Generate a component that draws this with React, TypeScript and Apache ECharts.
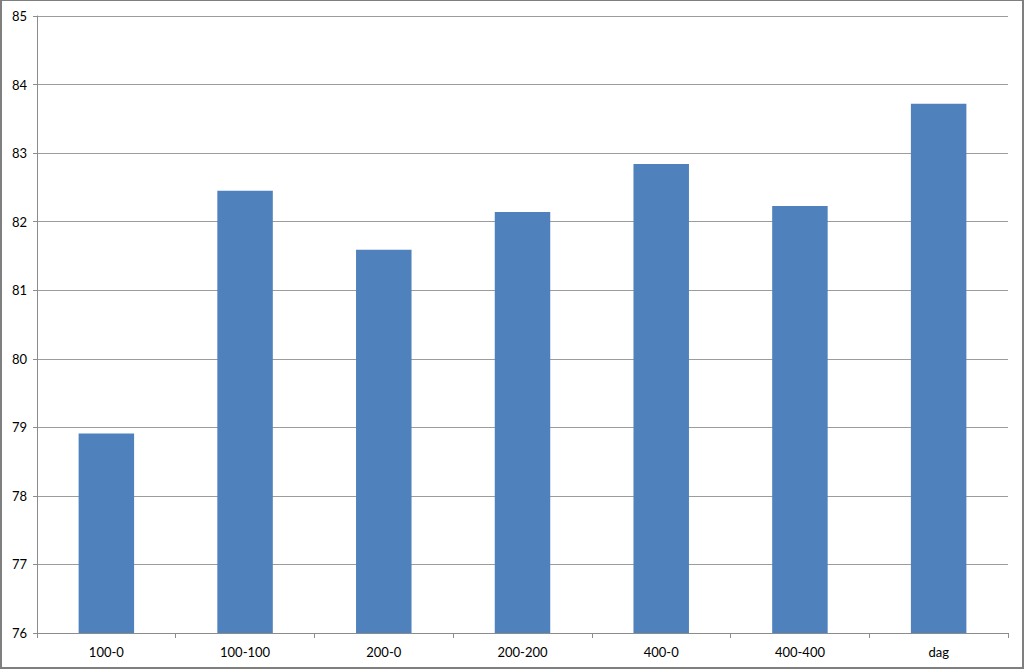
import React, { useEffect, useRef } from "react";
import * as echarts from "echarts";

const categories = ["100-0", "100-100", "200-0", "200-200", "400-0", "400-400", "dag"];
const values = [78.91, 82.45, 81.59, 82.14, 82.84, 82.23, 83.72];
const yMin = 76;
const yMax = 85;
const yInterval = 1;

export default function App() {
  const ref = useRef<HTMLDivElement>(null);
  useEffect(() => {
    document.body.style.margin = "0";
    const chart = echarts.init(ref.current!, null, { renderer: "svg" });
    chart.setOption({
      animation: false,
      backgroundColor: "#ffffff",
      grid: { left: 35, right: 14, top: 15, bottom: 34, containLabel: false },
      xAxis: {
        type: "category",
        data: categories,
        axisLine: { lineStyle: { color: "#8c8c8c", width: 1 } },
        axisTick: { show: true, alignWithLabel: false, length: 5, lineStyle: { color: "#8c8c8c" } },
        axisLabel: { color: "#000", fontFamily: "Lato, 'Open Sans', sans-serif", fontSize: 13, margin: 12 },
        splitLine: { show: false },
      },
      yAxis: {
        type: "value",
        min: yMin,
        max: yMax,
        interval: yInterval,
        axisLine: { show: true, lineStyle: { color: "#8c8c8c", width: 1 } },
        axisTick: { show: true, length: 4, lineStyle: { color: "#8c8c8c" } },
        axisLabel: { color: "#000", fontFamily: "Lato, 'Open Sans', sans-serif", fontSize: 13, margin: 10 },
        splitLine: { show: true, lineStyle: { color: "#9c9c9c", width: 1 } },
      },
      series: [
        {
          type: "bar",
          data: values,
          barWidth: "40%",
          itemStyle: { color: "#4f81bd" },
        },
      ],
    });
    return () => chart.dispose();
  }, []);
  return (
    <div
      style={{
        position: "absolute",
        left: 0,
        top: 0,
        width: 1024,
        height: 669,
        boxSizing: "border-box",
        borderLeft: "2px solid #7f7f7f",
        borderTop: "1px solid #7f7f7f",
        borderRight: "2px solid #7f7f7f",
        borderBottom: "2px solid #7f7f7f",
        background: "#fff",
      }}
    >
      <div ref={ref} style={{ width: 1020, height: 666 }} />
    </div>
  );
}
